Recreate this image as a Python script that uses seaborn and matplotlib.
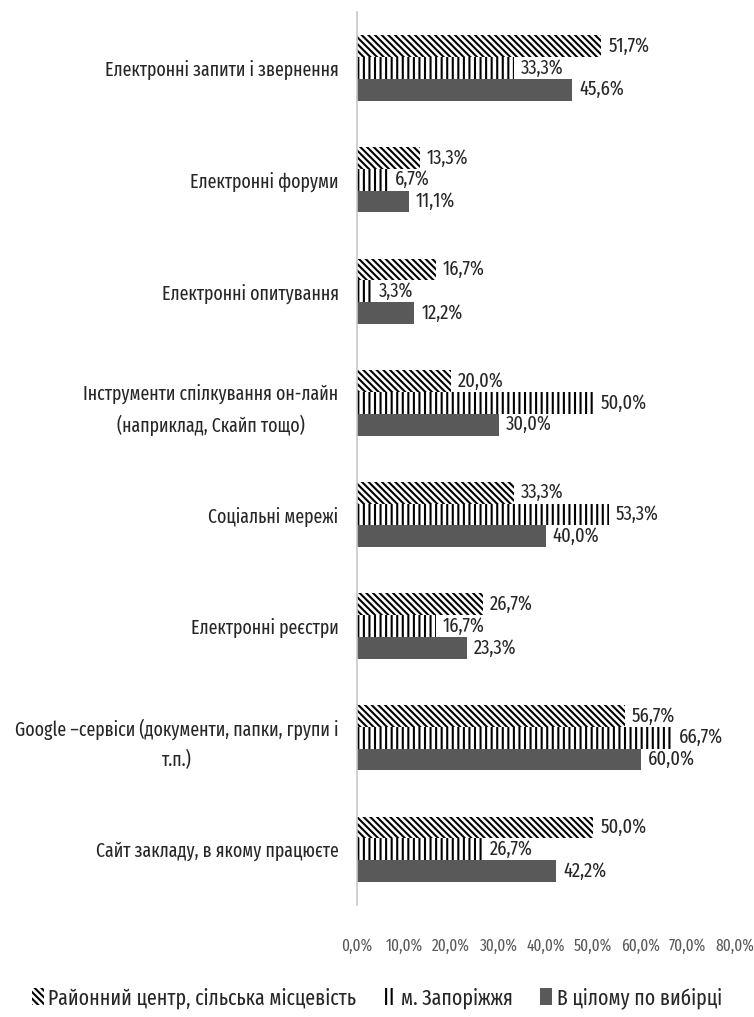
import pandas as pd
import seaborn as sns
import matplotlib.pyplot as plt
from matplotlib.patches import Patch
from matplotlib.ticker import FuncFormatter

# Data
categories = [
    "Електронні запити і звернення",
    "Електронні форуми",
    "Електронні опитування",
    "Інструменти спілкування он-лайн\n(наприклад, Скайп тощо)",
    "Соціальні мережі",
    "Електронні реєстри",
    "Google –сервіси (документи, папки, групи і\nт.п.)",
    "Сайт закладу, в якому працюєте",
]
series_names = [
    "Районний центр, сільська місцевість",
    "м. Запоріжжя",
    "В цілому по вибірці",
]
district = [51.7, 13.3, 16.7, 20.0, 33.3, 26.7, 56.7, 50.0]
zaporizhzhia = [33.3, 6.7, 3.3, 50.0, 53.3, 16.7, 66.7, 26.7]
overall = [45.6, 11.1, 12.2, 30.0, 40.0, 23.3, 60.0, 42.2]

rows = []
for name, vals in zip(series_names, [district, zaporizhzhia, overall]):
    for cat, v in zip(categories, vals):
        rows.append({"category": cat, "series": name, "value": v})
df = pd.DataFrame(rows)

sns.set_style("white")
plt.rcParams['font.family'] = ['Fira Sans Extra Condensed', 'Roboto Condensed', 'DejaVu Sans']
plt.rcParams['hatch.linewidth'] = 1.5

fig = plt.figure(figsize=(7.54, 10.17), dpi=100)
ax = fig.add_axes([0.473, 0.11, 0.502, 0.878])

sns.barplot(data=df, x="value", y="category", hue="series", orient="h",
            order=categories, hue_order=series_names, width=0.585,
            palette=["white", "white", "#595959"], legend=False, ax=ax)

diag = "\\" * 5
hatches = [diag, "|||", None]
for cont, h in zip(ax.containers, hatches):
    for bar in cont:
        bar.set_linewidth(0)
        if h:
            bar.set_hatch(h)
            bar.set_edgecolor("black")
    ax.bar_label(cont, labels=[f"{b.get_width():.1f}%".replace(".", ",") for b in cont],
                 padding=5, fontsize=14.5, color="#262626")

ax.set_xlim(0, 80)
ax.set_xticks(range(0, 81, 10))
ax.xaxis.set_major_formatter(FuncFormatter(lambda v, p: f"{v:.1f}%".replace(".", ",")))
ax.tick_params(axis="x", labelsize=12, colors="#595959", length=0, pad=24)
ax.tick_params(axis="y", labelsize=14, colors="#262626", length=0, pad=13)
for lbl in ax.get_yticklabels():
    lbl.set_linespacing(1.6)
    lbl.set_multialignment("center")
ax.set_xlabel("")
ax.set_ylabel("")
for s in ["top", "right", "bottom"]:
    ax.spines[s].set_visible(False)
ax.spines["left"].set_color("#c8c8c8")
ax.spines["left"].set_linewidth(1.2)

handles = [
    Patch(facecolor="white", edgecolor="black", hatch=diag, linewidth=0),
    Patch(facecolor="white", edgecolor="black", hatch="|||", linewidth=0),
    Patch(facecolor="#595959", edgecolor="#595959", linewidth=0),
]
fig.legend(handles, series_names, loc="lower center", bbox_to_anchor=(0.5, -0.011),
           ncol=3, frameon=False, fontsize=15.5, handlelength=0.55, handleheight=0.8,
           handletextpad=0.2, columnspacing=1.3, labelcolor="#262626")

fig.savefig("out.png", dpi=100)
